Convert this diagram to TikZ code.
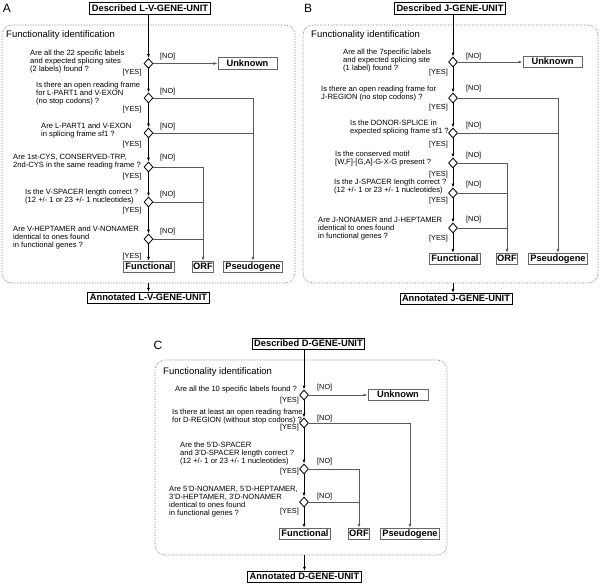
\documentclass[tikz,border=0pt]{standalone}
\usepackage{fontspec}
\setmainfont{Liberation Sans}
\usetikzlibrary{shapes.geometric,arrows.meta}
\newcommand\apos{\char39\relax}
\begin{document}
\begin{tikzpicture}[x=1pt,y=-1pt,
  q/.style={anchor=north west, inner sep=0pt, align=left, font=\fontsize{7.6}{8.1}\selectfont},
  no/.style={anchor=west, inner sep=0pt, font=\fontsize{7.3}{8}\selectfont},
  yes/.style={anchor=east, inner sep=0pt, font=\fontsize{7.3}{8}\selectfont},
  dia/.style={diamond, draw=black, fill=white, line width=0.8pt, minimum width=9pt, minimum height=10pt, inner sep=0pt},
  mainbox/.style={draw=black, line width=0.8pt, fill=white, font=\fontsize{9.3}{10}\selectfont\bfseries, inner xsep=2pt, inner ysep=1.3pt, text height=6.9pt, text depth=1.9pt},
  outbox/.style={mainbox, draw=black!60, line width=1pt},
  frame/.style={draw=black!55, densely dotted, line width=0.6pt, rounded corners=10pt, inner sep=0pt},
  ftitle/.style={anchor=west, inner sep=0pt, font=\fontsize{9.5}{11}\selectfont},
  plab/.style={inner sep=0pt, font=\fontsize{12}{14}\selectfont},
  flow/.style={line width=0.8pt, -{Latex[length=4pt,width=3pt]}},
  br/.style={draw=black!65, line width=0.8pt},
  bra/.style={br, -{Latex[length=4pt,width=3pt]}},
]
\useasboundingbox (0,0) rectangle (600,584);

% ================= Panel A =================
\node[frame, minimum width=293pt, minimum height=258pt] (frameA) at (148.5,154) {};
\node[plab] (labA) at (7,8) {A};
\node[mainbox] (descA) at (150,8.5) {Described L-V-GENE-UNIT};
\node[ftitle] (ftA) at (6,35) {Functionality identification};
\foreach \n/\y in {1/63.5,2/98,3/133,4/167,5/202,6/239}
  \node[dia] (dA\n) at (148.5,\y) {};
\node[outbox, minimum width=59pt] (unkA) at (247.5,63.5) {Unknown};
\node[outbox] (funA) at (149,267) {Functional};
\node[outbox, inner xsep=1pt] (orfA) at (203,267) {ORF};
\node[outbox] (psA) at (253,267) {Pseudogene};
\node[mainbox] (annA) at (148.5,298) {Annotated L-V-GENE-UNIT};

\node[q] (qA1) at (30,50) {Are all the 22 specific labels\\and expected splicing sites\\(2 labels) found ?};
\node[q] (qA2) at (36,82) {Is there an open reading frame\\for L-PART1 and V-EXON\\(no stop codons) ?};
\node[q] (qA3) at (41,123) {Are L-PART1 and V-EXON\\in splicing frame sf1 ?};
\node[q] (qA4) at (13,154) {Are 1st-CYS, CONSERVED-TRP,\\2nd-CYS in the same reading frame ?};
\node[q] (qA5) at (25,189) {Is the V-SPACER length correct ?\\(12 +/- 1 or 23 +/- 1 nucleotides)};
\node[q] (qA6) at (13,226) {Are V-HEPTAMER and V-NONAMER\\identical to ones found\\in functional genes ?};
\foreach \n/\a/\b in {1/57/73,2/92/110,3/127/145,4/158/177,5/195/211,6/232/257}{
  \node[no] (noA\n) at (160,\a) {[NO]};
  \node[yes] (yesA\n) at (141.5,\b) {[YES]};
}
\draw[flow] (dA1 |- descA.south) -- (dA1.north);
\draw[flow] (dA1.south) -- (dA2.north);
\draw[flow] (dA2.south) -- (dA3.north);
\draw[flow] (dA3.south) -- (dA4.north);
\draw[flow] (dA4.south) -- (dA5.north);
\draw[flow] (dA5.south) -- (dA6.north);
\draw[flow] (dA6.south) -- (dA6 |- funA.north);
\draw[flow] (annA |- frameA.south) -- (annA.north);
\draw[bra] (dA1.east) -- (unkA.west);
\draw[bra] (dA2.east) -| (psA.north);
\draw[br] (dA3.east) -- (dA3 -| psA);
\draw[bra] (dA4.east) -| (orfA.north);
\draw[br] (dA5.east) -- (dA5 -| orfA);
\draw[br] (dA6.east) -- (dA6 -| orfA);

% ================= Panel B =================
\node[frame, minimum width=295pt, minimum height=258pt] (frameB) at (450.5,154) {};
\node[plab] (labB) at (308,8) {B};
\node[mainbox] (descB) at (450,8.5) {Described J-GENE-UNIT};
\node[ftitle] (ftB) at (311,35) {Functionality identification};
\foreach \n/\y in {1/62,2/98,3/133,4/163,5/193,6/228}
  \node[dia] (dB\n) at (453,\y) {};
\node[outbox, minimum width=59pt] (unkB) at (552.5,62) {Unknown};
\node[outbox] (funB) at (455,259) {Functional};
\node[outbox, inner xsep=1pt] (orfB) at (507,259) {ORF};
\node[outbox] (psB) at (558,259) {Pseudogene};
\node[mainbox] (annB) at (456,299) {Annotated J-GENE-UNIT};

\node[q] (qB1) at (343,49) {Are all the 7specific labels\\and expected splicing site\\(1 label) found ?};
\node[q] (qB2) at (321,86) {Is there an open reading frame for\\J-REGION (no stop codons) ?};
\node[q] (qB3) at (350,120) {Is the DONOR-SPLICE in\\expected splicing frame sf1 ?};
\node[q] (qB4) at (335,151) {Is the conserved motif\\{}[W,F]-[G,A]-G-X-G present ?};
\node[q] (qB5) at (334,179) {Is the J-SPACER length correct ?\\(12 +/- 1 or 23 +/- 1 nucleotides)};
\node[q] (qB6) at (318,217) {Are J-NONAMER and J-HEPTAMER\\identical to ones found\\in functional genes ?};
\foreach \n/\a/\b in {1/57/73,2/89/108,3/126/145,4/156/175,5/185/201,6/220/239}{
  \node[no] (noB\n) at (466,\a) {[NO]};
  \node[yes] (yesB\n) at (448,\b) {[YES]};
}
\draw[flow] (dB1 |- descB.south) -- (dB1.north);
\draw[flow] (dB1.south) -- (dB2.north);
\draw[flow] (dB2.south) -- (dB3.north);
\draw[flow] (dB3.south) -- (dB4.north);
\draw[flow] (dB4.south) -- (dB5.north);
\draw[flow] (dB5.south) -- (dB6.north);
\draw[flow] (dB6.south) -- (dB6 |- funB.north);
\draw[flow] (dB6 |- frameB.south) -- (dB6 |- annB.north);
\draw[bra] (dB1.east) -- (unkB.west);
\draw[bra] (dB2.east) -| (psB.north);
\draw[br] (dB3.east) -- (dB3 -| psB);
\draw[bra] (dB4.east) -| (orfB.north);
\draw[br] (dB5.east) -- (dB5 -| orfB);
\draw[br] (dB6.east) -- (dB6 -| orfB);

% ================= Panel C =================
\node[frame, minimum width=292pt, minimum height=195pt] (frameC) at (301,457.5) {};
\node[plab] (labC) at (158,345) {C};
\node[mainbox] (descC) at (308.5,344) {Described D-GENE-UNIT};
\node[ftitle] (ftC) at (163,372) {Functionality identification};
\foreach \n/\y in {1/395,2/423,3/469,4/502}
  \node[dia] (dC\n) at (304,\y) {};
\node[outbox, minimum width=60pt] (unkC) at (398,395) {Unknown};
\node[outbox] (funC) at (305,534) {Functional};
\node[outbox, inner xsep=1pt] (orfC) at (359,534) {ORF};
\node[outbox] (psC) at (410,534) {Pseudogene};
\node[mainbox] (annC) at (304.5,577) {Annotated D-GENE-UNIT};

\node[q] (qC1) at (175,386) {Are all the 10 specific labels found ?};
\node[q] (qC2) at (172,409) {Is there at least an open reading frame\\for D-REGION (without stop codons) ?};
\node[q] (qC3) at (180,442) {Are the 5\apos D-SPACER\\and 3\apos D-SPACER length correct ?\\(12 +/- 1 or 23 +/- 1 nucleotides)};
\node[q] (qC4) at (169,486) {Are 5\apos D-NONAMER, 5\apos D-HEPTAMER,\\3\apos D-HEPTAMER, 3\apos D-NONAMER\\identical to ones found\\in functional genes ?};
\foreach \n/\a/\b in {1/388/401,2/419/428,3/462/472,4/497/512}{
  \node[no] (noC\n) at (317,\a) {[NO]};
  \node[yes] (yesC\n) at (299,\b) {[YES]};
}
\draw[flow] (dC1 |- descC.south) -- (dC1.north);
\draw[flow] (dC1.south) -- (dC2.north);
\draw[flow] (dC2.south) -- (dC3.north);
\draw[flow] (dC3.south) -- (dC4.north);
\draw[flow] (dC4.south) -- (dC4 |- funC.north);
\draw[flow] (annC |- frameC.south) -- (annC.north);
\draw[bra] (dC1.east) -- (unkC.west);
\draw[bra] (dC2.east) -| (psC.north);
\draw[bra] (dC3.east) -| (orfC.north);
\draw[br] (dC4.east) -- (dC4 -| orfC);
\end{tikzpicture}
\end{document}
